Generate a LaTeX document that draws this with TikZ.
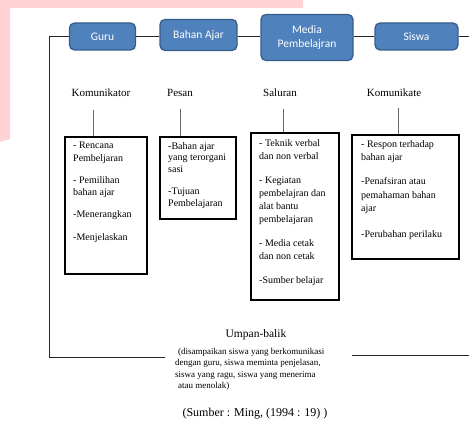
\documentclass[tikz,border=0pt]{standalone}
\usepackage{fontspec}
\setmainfont{Liberation Serif}
\newfontfamily\calib{Carlito}
\definecolor{pinkbg}{RGB}{255,210,212}
\definecolor{bluefill}{RGB}{79,129,189}
\definecolor{blueedge}{RGB}{56,93,138}
\begin{document}
\begin{tikzpicture}[x=1pt,y=-1pt,
 bluebox/.style={draw=blueedge, fill=bluefill, line width=1.3pt, rounded corners=5pt, text=white, font=\calib\fontsize{11.5}{13.5}\selectfont, align=center, inner sep=0pt},
 listbox/.style={draw=black, line width=1.8pt, inner sep=0pt},
 listtext/.style={anchor=north west, align=left, inner sep=0pt, font=\fontsize{10}{12.5}\selectfont},
 role/.style={font=\fontsize{11}{13}\selectfont, inner sep=0pt},
 link/.style={draw=black!85, line width=0.8pt},
 stem/.style={draw=black!60, line width=0.9pt}]
\useasboundingbox (0,0) rectangle (469,422);
\fill[pinkbg] (0,0) -- (303,0) -- (303,8) -- (10,8) -- (10,139) -- (0,142) -- cycle;

% top blue boxes
\node[bluebox, minimum width=66pt, minimum height=27pt] (guru) at (102.5,36.5) {Guru};
\node[bluebox, minimum width=77pt, minimum height=31pt] (bahan) at (198.5,35) {Bahan Ajar};
\node[bluebox, minimum width=92pt, minimum height=46pt] (media) at (307,37.5) {Media\\Pembelajran};
\node[bluebox, minimum width=83pt, minimum height=27pt] (siswa) at (416.5,36.5) {Siswa};

% coordinates
\coordinate (fbL) at (49,357);
\coordinate (fbA) at (165,357);
\coordinate (fbB) at (352,355);
\coordinate (fbR) at (469,355);
\coordinate (topR) at (469,36.5);

\draw[link] (fbA) -- (fbL) -- (fbL |- guru.west) -- (guru.west);
\draw[link] (guru.east) -- (bahan.west |- guru.east);
\draw[link] (bahan.east |- guru.east) -- (media.west |- guru.east);
\draw[link] (media.east |- guru.east) -- (siswa.west);
\draw[link] (siswa.east) -- (topR);
\draw[link] (fbB) -- (fbR);

% role labels
\node[role] (lab1) at (101,93) {Komunikator};
\node[role] (lab2) at (180,93) {Pesan};
\node[role] (lab3) at (280,93) {Saluran};
\node[role] (lab4) at (394,93) {Komunikate};

% list boxes
\node[listbox, minimum width=82pt, minimum height=137pt] (box1) at (106,205.5) {};
\node[listbox, minimum width=76pt, minimum height=82pt] (box2) at (198,178) {};
\node[listbox, minimum width=88pt, minimum height=167pt] (box3) at (295,216.5) {};
\node[listbox, minimum width=107pt, minimum height=124pt] (box4) at (405.5,197) {};

% stems
\coordinate (t1) at (93,110);
\coordinate (t2) at (180,109);
\coordinate (t3) at (283,109);
\coordinate (t4) at (398,108);
\draw[stem] (t1) -- (t1 |- box1.north);
\draw[stem] (t2) -- (t2 |- box2.north);
\draw[stem] (t3) -- (t3 |- box3.north);
\draw[stem] (t4) -- (t4 |- box4.north);

% list texts
\node[listtext] (txt1) at (73,142) {- Rencana\\Pembeljaran\\[9.5pt]- Pemilihan\\bahan ajar\\[9.5pt]-Menerangkan\\[10pt]-Menjelaskan};
\node[listtext, font=\fontsize{10}{11.5}\selectfont] (txt2) at (168,142) {-Bahan ajar\\yang terorgani\\sasi\\[11pt]-Tujuan\\Pembelajaran};
\node[listtext, font=\fontsize{10}{13}\selectfont] (txt3) at (259,139.5) {- Teknik verbal\\dan non verbal\\[11pt]- Kegiatan\\pembelajran dan\\alat bantu\\pembelajaran\\[11pt]- Media cetak\\dan non cetak\\[11pt]-Sumber belajar};
\node[listtext, font=\fontsize{10}{13.5}\selectfont] (txt4) at (361,140) {- Respon terhadap\\bahan ajar\\[10.5pt]-Penafsiran atau\\pemahaman bahan\\ajar\\[12pt]-Perubahan perilaku};

% feedback
\node[font=\fontsize{11.5}{13}\selectfont, inner sep=0pt] (ub) at (256,335) {Umpan-balik};
\node[anchor=north west, align=left, inner sep=0pt, font=\fontsize{9}{11.5}\selectfont] (fbtxt) at (175,348) {\hspace{3pt}(disampaikan siswa yang berkomunikasi\\dengan guru, siswa meminta penjelasan,\\siswa yang ragu, siswa yang menerima\\\hspace{3pt}atau menolak)};
\node[font=\fontsize{12}{14}\selectfont, inner sep=0pt] (src) at (255,414) {(Sumber : Ming, (1994 : 19) )};
\end{tikzpicture}
\end{document}
